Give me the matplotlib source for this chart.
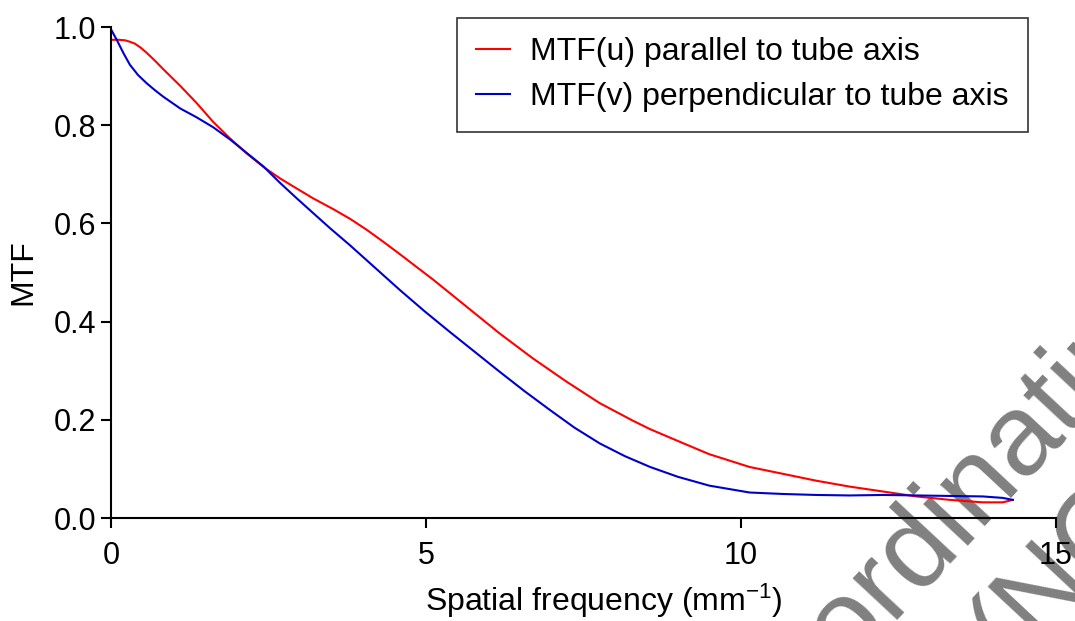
import numpy as np
import matplotlib
matplotlib.use("Agg")
import matplotlib.pyplot as plt

plt.rcParams['font.family'] = ['Liberation Sans', 'DejaVu Sans']
plt.rcParams['mathtext.default'] = 'regular'

# MTF parallel to tube axis
u_freq = [0, 0.12, 0.22, 0.3, 0.38, 0.47, 0.57, 0.7, 0.83, 1.1, 1.36, 1.62,
          1.89, 2.15, 2.42, 2.68, 2.95, 3.21, 3.53, 3.8, 4.06, 4.33, 4.59,
          5.12, 5.65, 6.17, 6.70, 7.23, 7.76, 8.29, 8.56, 9.0, 9.5, 10.14,
          10.67, 11.2, 11.73, 12.26, 12.79, 13.32, 13.84, 14.16, 14.32]
u_mtf = [0.974, 0.974, 0.973, 0.970, 0.966, 0.958, 0.947, 0.931, 0.914, 0.880,
         0.845, 0.807, 0.773, 0.743, 0.715, 0.692, 0.671, 0.651, 0.629, 0.609,
         0.587, 0.562, 0.537, 0.485, 0.430, 0.376, 0.325, 0.278, 0.234, 0.198,
         0.181, 0.157, 0.130, 0.104, 0.090, 0.076, 0.064, 0.054, 0.044, 0.037,
         0.032, 0.032, 0.037]

# MTF perpendicular to tube axis
v_freq = [0, 0.09, 0.2, 0.3, 0.43, 0.57, 0.7, 0.83, 1.1, 1.36, 1.62, 1.89,
          2.15, 2.42, 2.68, 2.95, 3.21, 3.48, 3.79, 4.19, 4.59, 4.98, 5.38,
          5.78, 6.17, 6.57, 6.97, 7.36, 7.76, 8.16, 8.56, 9.0, 9.5, 10.14,
          10.67, 11.2, 11.73, 12.26, 12.79, 13.32, 13.84, 14.16, 14.32]
v_mtf = [0.995, 0.974, 0.946, 0.923, 0.902, 0.885, 0.871, 0.858, 0.834, 0.816,
         0.796, 0.771, 0.744, 0.716, 0.683, 0.651, 0.621, 0.590, 0.556, 0.510,
         0.464, 0.421, 0.379, 0.338, 0.298, 0.258, 0.220, 0.184, 0.152, 0.126,
         0.104, 0.084, 0.066, 0.052, 0.049, 0.047, 0.046, 0.047, 0.046, 0.045,
         0.044, 0.041, 0.037]

labels = ["MTF(u) parallel to tube axis", "MTF(v) perpendicular to tube axis"]

fig = plt.figure(figsize=(10.75, 6.21), dpi=100)
ax = fig.add_axes([0.1033, 0.1658, 0.8787, 0.7907])
ax.patch.set_visible(False)

ax.plot(u_freq, u_mtf, color='#ff0000', lw=1.5, label=labels[0])
ax.plot(v_freq, v_mtf, color='#0000cc', lw=1.5, label=labels[1])

ax.set_xlim(0, 15)
ax.set_ylim(0, 1.0)
ax.set_xticks([0, 5, 10, 15])
ax.set_yticks([0, 0.2, 0.4, 0.6, 0.8, 1.0])
ax.set_yticklabels(["0.0", "0.2", "0.4", "0.6", "0.8", "1.0"])
for s in ['top', 'right']:
    ax.spines[s].set_visible(False)
for s in ['left', 'bottom']:
    ax.spines[s].set_linewidth(1.5)
ax.tick_params(direction='out', length=7.5, width=1.5, labelsize=22)
ax.tick_params(axis='y', pad=3)
ax.tick_params(axis='x', pad=9)
ax.set_xlabel("Spatial frequency (mm$^{-1}$)", fontsize=23, va='baseline')
ax.set_ylabel("MTF", fontsize=23, va='center')
ax.xaxis.set_label_coords(0.522, -(611 - 518) / 491)
ax.yaxis.set_label_coords(-(111 - 23) / 945, 0.5)

leg = ax.legend(loc='upper right', bbox_to_anchor=(1028 / 1075, 1 - 18 / 621),
                bbox_transform=fig.transFigure, fontsize=23, frameon=True,
                fancybox=False, edgecolor='black', borderaxespad=0,
                handlelength=1.07, handletextpad=0.63, labelspacing=0.48,
                borderpad=0.6)
leg.get_frame().set_linewidth(1.2)

# watermark
fig.text(0.6949, -0.2496, "Coordinating", rotation=47, fontsize=83,
         color='#808080', ha='left', va='baseline', rotation_mode='anchor',
         zorder=-1)
fig.text(0.9414, -0.0789, "(NC", rotation=47, fontsize=83,
         color='#808080', ha='left', va='baseline', rotation_mode='anchor',
         zorder=-1)

fig.savefig("out.png", dpi=100)
